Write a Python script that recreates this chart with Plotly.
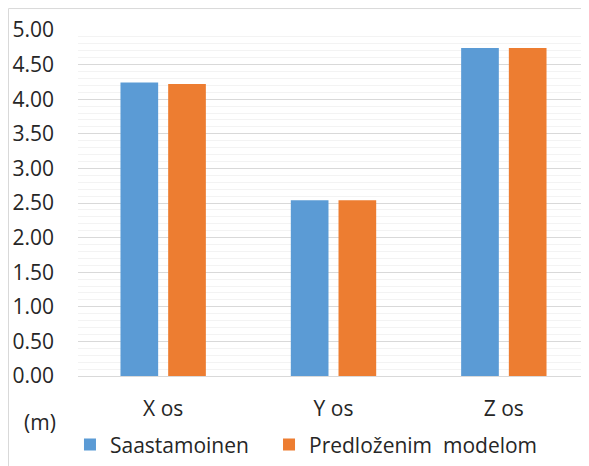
import plotly.graph_objects as go

categories = ["X os", "Y os", "Z os"]
saastamoinen = [4.24, 2.54, 4.74]
predlozenim = [4.22, 2.54, 4.74]

font_name = "Open Sans"
text_color = "#262626"

fig = go.Figure()
fig.add_trace(go.Bar(
    x=categories,
    y=saastamoinen,
    name="Saastamoinen",
    marker=dict(color="#5b9bd5", line=dict(width=0)),
    legend="legend",
))
fig.add_trace(go.Bar(
    x=categories,
    y=predlozenim,
    name="Predloženim\u00a0 modelom",
    marker=dict(color="#ed7d31", line=dict(width=0)),
    legend="legend2",
))

# page has an 8px body margin, so the figure is a bit smaller than the window
fig.update_layout(
    width=581,
    height=458,
    margin=dict(l=70, r=0, t=22, b=90),
    paper_bgcolor="white",
    plot_bgcolor="white",
    barmode="group",
    bargap=0.44,
    bargroupgap=0.21,
    font=dict(family=font_name, size=21, color=text_color),
    showlegend=True,
    legend=dict(
        orientation="h",
        x=-0.0157, xanchor="left",
        y=-0.140, yanchor="top",
        font=dict(size=21, color=text_color),
        itemwidth=30,
    ),
    legend2=dict(
        orientation="h",
        x=0.3738, xanchor="left",
        y=-0.140, yanchor="top",
        font=dict(size=21, color=text_color),
        itemwidth=30,
    ),
    xaxis=dict(
        showgrid=False,
        showline=False,
        ticks="",
        ticklabelstandoff=18,
        tickfont=dict(size=21),
    ),
    yaxis=dict(
        range=[0, 5],
        dtick=0.5,
        tickformat=".2f",
        showgrid=True,
        gridcolor="#d9d9d9",
        gridwidth=1,
        zeroline=True,
        zerolinecolor="#d9d9d9",
        zerolinewidth=1,
        showline=False,
        ticks="",
        ticklabelstandoff=23,
        tickfont=dict(size=21),
        minor=dict(dtick=0.1, showgrid=True, gridcolor="#f3f3f3", gridwidth=1),
    ),
    shapes=[
        dict(type="line", xref="paper", yref="paper", x0=-0.136, x1=1.0, y0=1.062, y1=1.062,
             line=dict(color="#d9d9d9", width=1)),
        dict(type="line", xref="paper", yref="paper", x0=-0.136, x1=-0.136, y0=1.062, y1=-0.26,
             line=dict(color="#d9d9d9", width=1)),
    ],
    annotations=[
        dict(text="(m)", xref="paper", yref="paper", x=-0.0753, y=-0.133,
             xanchor="center", yanchor="middle", showarrow=False,
             font=dict(size=21, color=text_color)),
    ],
)

fig.write_html("out.html")
